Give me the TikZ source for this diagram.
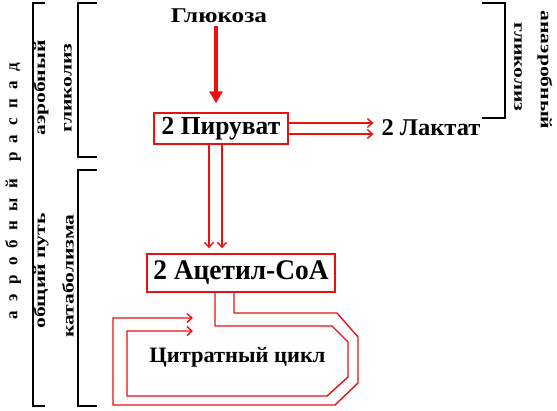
\documentclass[tikz,border=0pt]{standalone}
\usepackage{fontspec}
\setmainfont{Liberation Serif}
\usetikzlibrary{arrows.meta}
\definecolor{pathred}{RGB}{232,16,16}
\newcommand{\labfont}[2]{\bfseries\fontsize{#1}{#1}\selectfont\addfontfeatures{FakeStretch=#2}}

\begin{document}
\begin{tikzpicture}[x=1pt, y=-1pt,
  txt/.style={inner sep=0pt},
  box/.style={draw=pathred, line width=1.4pt, inner sep=0pt},
  side/.style={inner sep=0pt, font=\labfont{16}{1.35}},
  flow/.style={pathred, line width=1.4pt, -{Straight Barb[length=5pt,width=9pt]}},
  loop/.style={pathred, line width=1.4pt},
  bracket/.style={black, line width=1.1pt}]
  \useasboundingbox (0,0) rectangle (557,410);
  %% 1. Substances
  \node[txt, font=\labfont{21}{1.2}] (glu) at (219,16) {Глюкоза};
  \node[box, font=\labfont{26}{0.98}, minimum width=134, minimum height=31] (pyr) at (221,128.5) {2 Пируват};
  \node[txt, font=\labfont{24}{1.02}] (lac) at (431,128) {2 Лактат};
  \node[box, font=\labfont{28.4}{0.965}, minimum width=188, minimum height=38] (acc) at (241,273) {2 Ацетил-СоА};
  \node[txt, font=\labfont{22}{1.02}] (cit) at (237.5,357) {Цитратный цикл};
  %% 2. Arrows
  \draw[pathred, line width=4pt, shorten <=3pt, shorten >=9pt, -{Triangle[length=12pt,width=13pt]}]
    ([xshift=-3]glu.south) -- ([xshift=-3]glu.south |- pyr.north);
  \draw[flow, shorten >=8pt] ([yshift=5.5]pyr.east) -- ([yshift=5.5]pyr.east -| lac.west);
  \draw[flow, shorten >=8pt] ([yshift=-5.5]pyr.east) -- ([yshift=-5.5]pyr.east -| lac.west);
  \draw[flow, shorten >=5pt] ([xshift=-12]pyr.south) -- ([xshift=-12]pyr.south |- acc.north);
  \draw[flow, shorten >=5pt] ([xshift=1]pyr.south) -- ([xshift=1]pyr.south |- acc.north);
  %% 3. Citrate cycle
  \coordinate (outerend) at (193,318);
  \coordinate (innerend) at (193,331);
  \draw[loop, -{Straight Barb[length=5pt,width=9pt]}] ([xshift=-7]acc.south) -- (234,313) -- (337,313) -- (358,337)
    -- (358,383) -- (335,405) -- (113,405) -- (113,318) -- (outerend);
  \draw[loop, -{Straight Barb[length=5pt,width=9pt]}] ([xshift=-26]acc.south) -- (215,326) -- (332,326) -- (348,342)
    -- (348,377) -- (327,396) -- (127,396) -- (127,331) -- (innerend);
  %% 4. Brackets and labels
  \draw[bracket] (45,3) -- (33,3) -- (33,406) -- (45,406);
  \draw[bracket] (97,3) -- (78,3) -- (78,157) -- (97,157);
  \draw[bracket] (97,170) -- (78,170) -- (78,406) -- (97,406);
  \draw[bracket] (482,3) -- (505,3) -- (505,118) -- (482,118);
  \node[txt, rotate=90, font=\bfseries\fontsize{17}{19}\selectfont\addfontfeatures{LetterSpace=55}] (aer) at (13,191)
    {аэробный\hspace{3pt} распад};
  \node[side, rotate=90] (aer1) at (41,88) {аэробный};
  \node[side, rotate=90] (gly1) at (68,88) {гликолиз};
  \node[side, rotate=90] (com1) at (41,271) {общий путь};
  \node[side, rotate=90] (com2) at (68,276) {катаболизма};
  \node[side, rotate=-90] (gly2) at (518,67) {гликолиз};
  \node[side, rotate=-90] (ana) at (545,70) {анаэробный};
\end{tikzpicture}
\end{document}
